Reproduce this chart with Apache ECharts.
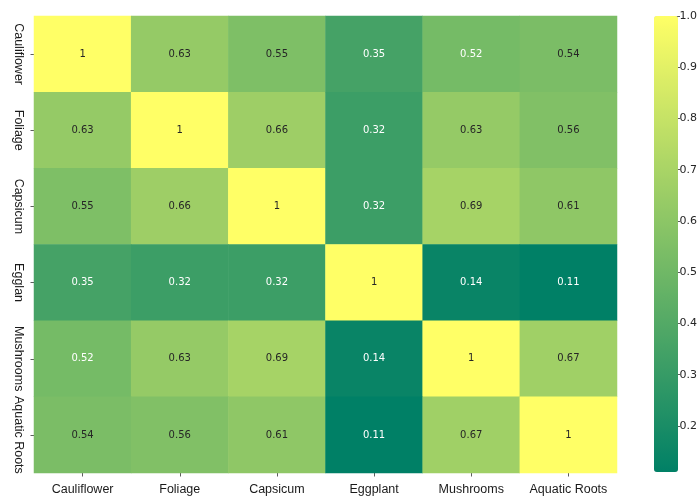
<!DOCTYPE html>
<html>
<head>
<meta charset="utf-8">
<script src="https://cdn.jsdelivr.net/npm/echarts@6/dist/echarts.min.js"></script>
<style>html,body{margin:0;padding:0;background:#fff;}#c{width:700px;height:498px;}</style>
</head>
<body>
<div id="c"></div>
<script>
const xCategories = ['Cauliflower', 'Foliage', 'Capsicum', 'Eggplant', 'Mushrooms', 'Aquatic Roots'];
const yCategories = ['Cauliflower', 'Foliage', 'Capsicum', 'Egglan', 'Mushrooms', 'Aquatic Roots'];
const rowCauliflower = [1, 0.63, 0.55, 0.35, 0.52, 0.54];
const rowFoliage = [0.63, 1, 0.66, 0.32, 0.63, 0.56];
const rowCapsicum = [0.55, 0.66, 1, 0.32, 0.69, 0.61];
const rowEggplant = [0.35, 0.32, 0.32, 1, 0.14, 0.11];
const rowMushrooms = [0.52, 0.63, 0.69, 0.14, 1, 0.67];
const rowAquatic = [0.54, 0.56, 0.61, 0.11, 0.67, 1];
const colorbarTicks = [0.2, 0.3, 0.4, 0.5, 0.6, 0.7, 0.8, 0.9, 1.0];
const vMin = 0.11, vMax = 1.0;

const rows = [rowCauliflower, rowFoliage, rowCapsicum, rowEggplant, rowMushrooms, rowAquatic];
const data = [];
rows.forEach((row, yi) => {
  row.forEach((v, xi) => {
    data.push({
      value: [xi, yi, v],
      label: { color: v < 0.53 ? '#ffffff' : '#262626' }
    });
  });
});

const chart = echarts.init(document.getElementById('c'), null, { renderer: 'canvas' });
chart.setOption({
  animation: false,
  backgroundColor: '#ffffff',
  grid: [
    { left: 34, top: 16, width: 583, height: 457 },
    { left: 654, top: 16, width: 24, height: 456 }
  ],
  xAxis: [
    {
      type: 'category', gridIndex: 0, data: xCategories,
      axisLine: { show: false },
      axisTick: { show: true, interval: 0, alignWithLabel: true, length: 3.5, lineStyle: { color: '#333', width: 0.8 } },
      axisLabel: { interval: 0, fontFamily: 'Liberation Sans', fontSize: 12.5, color: '#1a1a1a', margin: 10 },
      splitLine: { show: false }
    },
    { type: 'category', gridIndex: 1, data: ['c'], show: false }
  ],
  yAxis: [
    {
      type: 'category', gridIndex: 0, data: yCategories, inverse: true,
      axisLine: { show: false },
      axisTick: { show: true, interval: 0, alignWithLabel: true, length: 3.5, lineStyle: { color: '#333', width: 0.8 } },
      axisLabel: { interval: 0, fontFamily: 'Liberation Sans', fontSize: 12.5, color: '#1a1a1a', rotate: -90, margin: 9 },
      splitLine: { show: false }
    },
    {
      type: 'value', gridIndex: 1, min: vMin, max: vMax, position: 'right',
      axisLine: { show: false },
      splitLine: { show: false },
      axisTick: { show: true, length: 3.5, customValues: colorbarTicks, lineStyle: { color: '#333', width: 0.8 } },
      axisLabel: {
        fontFamily: 'DejaVu Sans', fontSize: 11, color: '#262626', margin: 3,
        customValues: colorbarTicks,
        formatter: v => Number(v).toFixed(1)
      }
    }
  ],
  visualMap: {
    type: 'continuous', min: vMin, max: vMax, seriesIndex: 0,
    calculable: false, realtime: false, hoverLink: false,
    left: 654, top: 16, padding: 0,
    itemWidth: 24, itemHeight: 456,
    text: null, showLabel: false,
    inRange: { color: ['#008066', '#ffff66'] }
  },
  series: [
    {
      type: 'heatmap', xAxisIndex: 0, yAxisIndex: 0,
      data: data,
      label: {
        show: true, fontFamily: 'DejaVu Sans', fontSize: 10,
        formatter: p => String(Number(p.value[2].toPrecision(2)))
      },
      emphasis: { disabled: true },
      itemStyle: { borderWidth: 0 }
    }
  ]
});
</script>
</body>
</html>
